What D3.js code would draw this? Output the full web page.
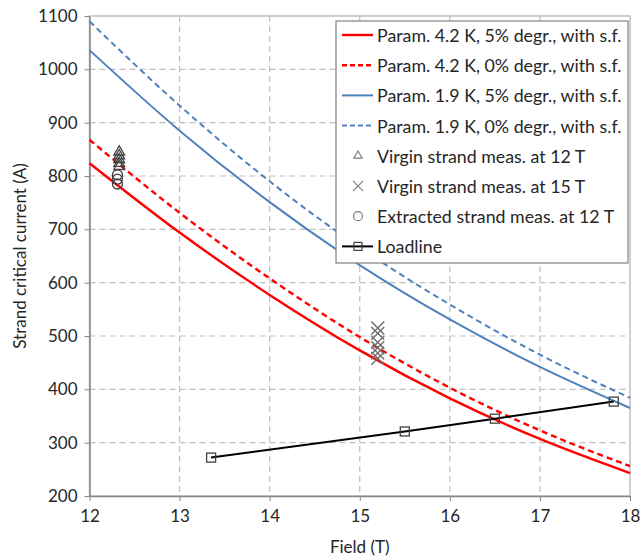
<!DOCTYPE html>
<html lang="en">
<head>
<meta charset="utf-8">
<title>Strand critical current vs field</title>
<script src="https://cdn.jsdelivr.net/npm/d3@7"></script>
<style type="text/css">
  body { margin: 0; background: #fff; }
  text { font-family: Lato, "Open Sans", sans-serif; fill: #262626; }
</style>
</head>
<body>
<svg id="chart" width="641" height="558"></svg>
<script type="text/javascript">
  // field points (T) for the parametrisation curves
  var fieldT = [12, 13, 14, 15, 16, 17, 18];
  var ic42deg5 = [824, 694, 577, 473, 383, 307, 243];
  var ic42deg0 = [868, 731, 608, 498, 403, 323, 256];
  var ic19deg5 = [1036, 885, 751, 633, 531, 442, 365];
  var ic19deg0 = [1090, 932, 790, 666, 559, 465, 384];

  // measurements
  var virgin12Field = 12.33;
  var virgin12Ic = [845, 838, 831, 824, 818];
  var virgin15Field = 15.2;
  var virgin15Ic = [515, 505, 488, 478, 468, 458];
  var extracted12Field = 12.31;
  var extracted12Ic = [802, 794, 785];

  // loadline
  var loadField = [13.35, 15.5, 16.5, 17.82];
  var loadIc = [272, 321, 345, 377];

  var xTicks = [12, 13, 14, 15, 16, 17, 18];
  var yTicks = [200, 300, 400, 500, 600, 700, 800, 900, 1000, 1100];

  var legendLabels = [
    "Param. 4.2 K, 5% degr., with s.f.",
    "Param. 4.2 K, 0% degr., with s.f.",
    "Param. 1.9 K, 5% degr., with s.f.",
    "Param. 1.9 K, 0% degr., with s.f.",
    "Virgin strand meas. at 12 T",
    "Virgin strand meas. at 15 T",
    "Extracted strand meas. at 12 T",
    "Loadline"
  ];

  drawChart("#chart");

  function drawChart(chartID) {
    var svg = d3.select(chartID);
    var pLeft = 89.5, pRight = 630, pTop = 16, pBottom = 496;

    var xScale = d3.scaleLinear().domain([12, 18]).range([pLeft, pRight]);
    var yScale = d3.scaleLinear().domain([200, 1100]).range([pBottom, pTop]);

    var red = "#ff0000", blue = "#4f81bd";

    //gridlines
    svg.append("g")
       .selectAll("line")
       .data(yTicks.slice(1, -1))
       .enter().append("line")
       .attr("x1", pLeft).attr("x2", pRight)
       .attr("y1", function(d) { return yScale(d); })
       .attr("y2", function(d) { return yScale(d); })
       .attr("stroke", "#bfbfbf").attr("stroke-width", 1.2)
       .attr("stroke-dasharray", "6,4");

    svg.append("g")
       .selectAll("line")
       .data(xTicks.slice(1, -1))
       .enter().append("line")
       .attr("y1", pTop).attr("y2", pBottom)
       .attr("x1", function(d) { return xScale(d); })
       .attr("x2", function(d) { return xScale(d); })
       .attr("stroke", "#bfbfbf").attr("stroke-width", 1.2)
       .attr("stroke-dasharray", "6,4");

    //plot frame
    svg.append("rect")
       .attr("x", pLeft).attr("y", pTop)
       .attr("width", pRight - pLeft).attr("height", pBottom - pTop)
       .attr("fill", "none").attr("stroke", "#bfbfbf").attr("stroke-width", 1.5);

    //axes
    var xAxis = d3.axisBottom(xScale).tickValues(xTicks).tickFormat(d3.format("d"))
                  .tickSize(5).tickSizeOuter(0);
    var yAxis = d3.axisLeft(yScale).tickValues(yTicks).tickFormat(d3.format("d"))
                  .tickSize(5).tickSizeOuter(0);

    var gx = svg.append("g")
       .attr("transform", "translate(0," + pBottom + ")")
       .call(xAxis);
    var gy = svg.append("g")
       .attr("transform", "translate(" + pLeft + ",0)")
       .call(yAxis);

    [gx, gy].forEach(function(g) {
      g.select(".domain").attr("stroke", "#868686").attr("stroke-width", 1.5);
      g.selectAll(".tick line").attr("stroke", "#868686");
      g.selectAll(".tick text")
       .attr("font-family", "Lato, sans-serif")
       .attr("font-size", "17px")
       .attr("fill", "#262626");
    });
    gx.selectAll(".tick text").attr("dy", "1.05em");
    gy.selectAll(".tick text").attr("x", -12);

    //axis titles
    svg.append("text")
       .attr("transform", "translate(19," + ((pTop + pBottom) / 2) + ") rotate(-90)")
       .attr("text-anchor", "middle")
       .attr("dominant-baseline", "central")
       .attr("font-size", "17px")
       .text("Strand critical current (A)");

    svg.append("text")
       .attr("x", (pLeft + pRight) / 2).attr("y", 546)
       .attr("text-anchor", "middle")
       .attr("dominant-baseline", "central")
       .attr("font-size", "17px")
       .text("Field (T)");

    //curves
    var line = d3.line()
       .x(function(d) { return xScale(d[0]); })
       .y(function(d) { return yScale(d[1]); })
       .curve(d3.curveMonotoneX);

    var curves = [
      { ic: ic42deg5, color: red, dash: null, w: 2.4 },
      { ic: ic42deg0, color: red, dash: "6,4", w: 2.4 },
      { ic: ic19deg5, color: blue, dash: null, w: 2 },
      { ic: ic19deg0, color: blue, dash: "6,4", w: 2 }
    ];

    curves.forEach(function(c) {
      svg.append("path")
         .datum(d3.zip(fieldT, c.ic))
         .attr("d", line)
         .attr("fill", "none")
         .attr("stroke", c.color)
         .attr("stroke-width", c.w)
         .attr("stroke-dasharray", c.dash);
    });

    //loadline
    svg.append("path")
       .datum(d3.zip(loadField, loadIc))
       .attr("d", d3.line()
          .x(function(d) { return xScale(d[0]); })
          .y(function(d) { return yScale(d[1]); }))
       .attr("fill", "none").attr("stroke", "#000").attr("stroke-width", 2);

    svg.append("g")
       .selectAll("rect")
       .data(d3.zip(loadField, loadIc))
       .enter().append("rect")
       .attr("x", function(d) { return xScale(d[0]) - 4.5; })
       .attr("y", function(d) { return yScale(d[1]) - 4.5; })
       .attr("width", 9).attr("height", 9)
       .attr("fill", "none").attr("stroke", "#404040").attr("stroke-width", 1.3);

    //measurement markers
    var tri = d3.symbol().type(d3.symbolTriangle).size(50);
    var cross = d3.symbol().type(d3.symbolX).size(110);

    svg.append("g")
       .selectAll("path")
       .data(virgin12Ic)
       .enter().append("path")
       .attr("d", tri)
       .attr("transform", function(d) { return "translate(" + xScale(virgin12Field) + "," + yScale(d) + ")"; })
       .attr("fill", "none").attr("stroke", "#404040").attr("stroke-width", 1.3);

    svg.append("g")
       .selectAll("circle")
       .data(extracted12Ic)
       .enter().append("circle")
       .attr("cx", xScale(extracted12Field))
       .attr("cy", function(d) { return yScale(d); })
       .attr("r", 5)
       .attr("fill", "none").attr("stroke", "#404040").attr("stroke-width", 1.3);

    svg.append("g")
       .selectAll("path")
       .data(virgin15Ic)
       .enter().append("path")
       .attr("d", cross)
       .attr("transform", function(d) { return "translate(" + xScale(virgin15Field) + "," + yScale(d) + ")"; })
       .attr("fill", "none").attr("stroke", "#6e6e6e").attr("stroke-width", 1.4);

    //legend
    var lg = svg.append("g").attr("transform", "translate(336,21)");
    lg.append("rect")
      .attr("width", 292).attr("height", 242)
      .attr("fill", "#fff").attr("stroke", "#808080").attr("stroke-width", 1.2);

    legendLabels.forEach(function(lbl, i) {
      var y = 14 + i * 30.2;
      var sw = lg.append("g").attr("transform", "translate(0," + y + ")");
      if (i < 4) {
        var c = curves[i];
        sw.append("line").attr("x1", 6).attr("x2", 37).attr("y1", 0).attr("y2", 0)
          .attr("stroke", c.color).attr("stroke-width", c.w)
          .attr("stroke-dasharray", c.dash ? "5,3" : null);
      } else if (i === 4) {
        sw.append("path").attr("d", d3.symbol().type(d3.symbolTriangle).size(30))
          .attr("transform", "translate(22,0)")
          .attr("fill", "none").attr("stroke", "#7f7f7f").attr("stroke-width", 1.2);
      } else if (i === 5) {
        sw.append("path").attr("d", d3.symbol().type(d3.symbolX).size(70))
          .attr("transform", "translate(22,0)")
          .attr("fill", "none").attr("stroke", "#7f7f7f").attr("stroke-width", 1.2);
      } else if (i === 6) {
        sw.append("circle").attr("cx", 22).attr("cy", 0).attr("r", 4.5)
          .attr("fill", "none").attr("stroke", "#7f7f7f").attr("stroke-width", 1.2);
      } else {
        sw.append("line").attr("x1", 6).attr("x2", 37).attr("y1", 0).attr("y2", 0)
          .attr("stroke", "#000").attr("stroke-width", 2);
        sw.append("rect").attr("x", 18).attr("y", -4).attr("width", 8).attr("height", 8)
          .attr("fill", "none").attr("stroke", "#404040").attr("stroke-width", 1.2);
      }
      sw.append("text")
        .attr("x", 41).attr("y", 0)
        .attr("dominant-baseline", "central")
        .attr("font-size", "17.8px")
        .text(lbl);
    });
  }
</script>
</body>
</html>
